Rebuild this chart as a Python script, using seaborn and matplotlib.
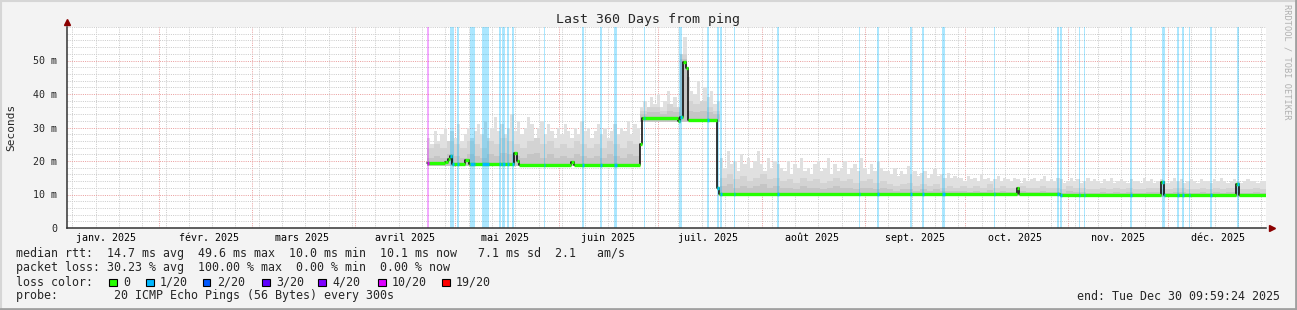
import numpy as np
import pandas as pd
import matplotlib
matplotlib.use("Agg")
import matplotlib.pyplot as plt
import matplotlib.dates as mdates
from matplotlib.ticker import MultipleLocator, FixedLocator, FuncFormatter
from matplotlib.patches import Rectangle
from matplotlib.lines import Line2D
import seaborn as sns

# ---------------- data ----------------
period_start = "2025-01-04 10:00"
period_end = "2025-12-30 10:00"

month_labels = ["janv. 2025", "févr. 2025", "mars 2025", "avril 2025", "mai 2025", "juin 2025",
                "juil. 2025", "août 2025", "sept. 2025", "oct. 2025", "nov. 2025", "déc. 2025"]
y_ticks = [0, 10, 20, 30, 40, 50]
y_tick_labels = ["0", "10 m", "20 m", "30 m", "40 m", "50 m"]

# median rtt (ms) as a step series
median_times = ["2025-04-22 12:00", "2025-04-28 00:00", "2025-04-28 18:00", "2025-04-29 08:00",
                "2025-04-29 22:00", "2025-05-04 00:00", "2025-05-05 00:00", "2025-05-06 12:00",
                "2025-05-18 18:00", "2025-05-19 12:00", "2025-05-20 06:00", "2025-06-04 20:00",
                "2025-06-05 12:00", "2025-06-25 12:00", "2025-06-26 04:00", "2025-07-06 18:00",
                "2025-07-07 12:00", "2025-07-08 06:00", "2025-07-09 03:00", "2025-07-09 18:00",
                "2025-07-18 12:00", "2025-07-19 03:00", "2025-10-16 14:00", "2025-10-17 06:00",
                "2025-10-29 12:00", "2025-11-29 00:00", "2025-11-29 17:00", "2025-12-21 12:00",
                "2025-12-22 04:00", "2025-12-30 10:00"]
median_ms = [19.3, 19.8, 20.6, 21.4, 19.2, 20.3, 19.0, 19.2, 22.3, 20.0,
             18.9, 19.8, 18.9, 25.2, 32.8, 31.9, 33.2, 49.6, 47.8, 32.3,
             11.8, 10.2, 11.9, 10.2, 9.8, 13.8, 10.0, 13.1, 9.8, 9.8]

# smoke (ping spread): daily maxima starting at smoke_start
smoke_start = "2025-04-22 12:00"
smoke_max = [27, 25, 29, 26, 28, 30, 26, 29, 27, 31, 26, 28, 30, 27, 29, 31,
             28, 32, 27, 30, 33, 29, 31, 28, 30, 34, 29, 32, 28, 30, 33, 31,
             27, 30, 32, 28, 31, 29, 27, 30, 28, 31, 29, 27, 30, 28, 32, 29,
             30, 27, 29, 31, 28, 30, 27, 29, 31, 28, 30, 29, 32, 28, 31, 30,
             36, 38, 35, 39, 37, 40, 36, 38, 41, 37, 39, 36,
             52, 57, 45, 41,
             40, 44, 38, 42, 39, 41, 37, 38,
             21, 18, 23, 19, 20, 17, 22, 19, 21, 18, 20, 23, 19, 17, 21, 18, 20, 19,
             18, 17, 20, 16, 19, 18, 21, 17, 18, 16, 19, 20, 17, 18, 21, 16,
             19, 17, 18, 20, 16, 18, 19, 17, 21, 18, 16, 19, 17, 20, 18, 17,
             17, 16, 18, 15.5, 17, 16, 18.5, 16, 17, 15.5, 16.5, 17, 15, 16, 17.5, 15.5,
             16, 15, 16.5, 15, 15.5, 15,
             15, 14, 15.5, 14.5, 15, 14, 16, 14.5, 15, 14, 14.5, 15.5, 14, 15, 14.5, 14, 15, 14.5, 13.5, 15,
             14, 14.5, 15, 14, 14.5, 15.5, 14, 14.5, 14, 15, 14.5, 13.5, 14, 15, 14, 14.5, 13.5, 14, 15, 14,
             14.5, 14, 13.5, 14.5, 14, 15, 13.5, 14, 14.5, 14, 13.5, 14.5, 14, 14, 13.5, 15, 14, 14.5, 13.5, 14,
             14.5, 14, 13.5, 14, 15, 14, 14.5, 13.5, 14, 14.5, 14, 13.5, 14.5, 14, 14, 13.5, 14.5, 14, 15, 14,
             13.5, 14, 14.5, 14, 13.5, 14, 14.5, 14, 14, 13.5, 14, 14]
# inner shades: 2-day bins
smoke_mid = [24, 25, 24, 26, 25, 24, 26, 25, 24, 26, 25, 27, 26, 25, 24, 26, 27, 25, 26, 24,
             25, 24, 26, 25, 24, 25, 24, 26, 25, 24, 26, 25,
             35, 36, 36, 35, 37, 36,
             52, 38,
             37, 38, 36, 35,
             15, 16, 14.5, 15.5, 14, 15, 16, 14.5, 15,
             14, 14.5, 13.5, 15, 14, 14.5, 13.5, 14, 15, 14, 14.5, 13.5, 14, 14.5, 13.5, 14,
             13, 12.5, 13, 13.5, 12.5, 13, 12.5, 13, 12, 12.5, 12,
             12.5, 12, 12.5, 12, 13, 12, 12.5, 12, 12, 12.5,
             12, 12, 12.5, 12, 12, 11.5, 12.5, 12, 12, 11.5,
             11.5, 12, 11.5, 12, 11.5, 12, 11.5, 11.5, 12, 12,
             11.5, 11.5, 12, 12, 11.5, 11.5, 12, 11.5, 12, 11.5,
             12, 12, 11.5, 11.5, 12, 11.5]
smoke_core = [21, 21.5, 21, 22, 21.5, 21, 22, 21.5, 21, 22, 21.5, 22.5, 22, 21.5, 21, 22, 22.5, 21, 22, 21,
              21.5, 21, 22, 21.5, 21, 21.5, 21, 22, 21.5, 21, 22, 21.5,
              34, 34.5, 34.5, 34, 35, 34.5,
              50.5, 35,
              34.5, 35, 34.5, 34,
              12.5, 13, 12, 12.5, 12, 12.5, 13, 12, 12.5,
              12, 12, 11.5, 12.5, 12, 12, 11.5, 12, 12.5, 12, 12, 11.5, 12, 12, 11.5, 12,
              11.5, 11, 11.5, 11.5, 11, 11.5, 11, 11.5, 11, 11, 11,
              11, 10.8, 11, 10.8, 11.2, 10.8, 11, 10.8, 10.8, 11,
              10.8, 10.8, 11, 10.8, 10.8, 10.5, 11, 10.8, 10.8, 10.5,
              10.5, 10.8, 10.5, 10.8, 10.5, 10.8, 10.5, 10.5, 10.8, 10.8,
              10.5, 10.5, 10.8, 10.8, 10.5, 10.5, 10.8, 10.5, 10.8, 10.5,
              10.8, 10.8, 10.5, 10.5, 10.8, 10.5]
smoke_low_levels = [18.4, 31.7, 9.7, 9.3]
smoke_low_days = [64, 24, 102, 62]

# packet loss events
loss_times = ["2025-04-22 20:00", "2025-04-30 00:00", "2025-05-01 17:00", "2025-05-06 03:00",
              "2025-05-10 01:00", "2025-05-14 10:00", "2025-05-15 10:00", "2025-05-16 22:00",
              "2025-05-18 08:00", "2025-05-27 17:00", "2025-06-08 10:00", "2025-06-13 17:00",
              "2025-06-18 03:00", "2025-06-26 20:00", "2025-07-07 15:00", "2025-07-15 20:00",
              "2025-07-18 20:00", "2025-07-19 17:00", "2025-07-23 20:00", "2025-08-05 20:00",
              "2025-08-30 08:00", "2025-09-04 22:00", "2025-09-14 20:00", "2025-09-18 10:00",
              "2025-09-24 13:00", "2025-10-09 20:00", "2025-10-28 22:00", "2025-10-29 20:00",
              "2025-11-04 08:00", "2025-11-05 22:00", "2025-11-19 20:00", "2025-11-29 15:00",
              "2025-12-03 22:00", "2025-12-05 10:00", "2025-12-07 10:00", "2025-12-13 20:00",
              "2025-12-21 22:00"]
loss_hours = [17, 31, 14, 36, 55, 14, 22, 14, 17, 8, 14, 14, 22, 8, 22, 14, 14, 14, 8, 14,
              8, 14, 14, 14, 22, 8, 14, 14, 8, 8, 14, 22, 14, 14, 8, 14, 14]
loss_level = ["10/20"] + ["1/20"] * 36

loss_legend = ["0", "1/20", "2/20", "3/20", "4/20", "10/20", "19/20"]
loss_colors = ["#26ff00", "#00b8ff", "#0059ff", "#5e00ff", "#7e00ff", "#dd00ff", "#ff0000"]

stats_lines = [
    "median rtt:  14.7 ms avg  49.6 ms max  10.0 ms min  10.1 ms now   7.1 ms sd  2.1   am/s",
    "packet loss: 30.23 % avg  100.00 % max  0.00 % min  0.00 % now",
]
probe_line = "probe:        20 ICMP Echo Pings (56 Bytes) every 300s"
end_text = "end: Tue Dec 30 09:59:24 2025"
title = "Last 360 Days from ping"

# ---------------- figure ----------------
sns.set_style("white")
plt.rcParams["font.family"] = ["DejaVu Sans Mono", "DejaVu Sans"]

W, H = 1297, 310
fig = plt.figure(figsize=(W / 100, H / 100), dpi=100, facecolor="#f3f3f3")


def fx(px):
    return px / W


def fy(py):
    return 1 - py / H


ax = fig.add_axes([fx(67), fy(228), fx(1266) - fx(67), fy(27) - fy(228)])
ax.set_facecolor("white")

t0 = mdates.date2num(pd.Timestamp(period_start))
t1 = mdates.date2num(pd.Timestamp(period_end))
ax.set_xlim(t0, t1)
ax.set_ylim(0, 60)

# grid
ax.yaxis.set_major_locator(FixedLocator(y_ticks))
ax.yaxis.set_minor_locator(MultipleLocator(2))
ax.xaxis.set_major_locator(mdates.MonthLocator())
ax.xaxis.set_minor_locator(mdates.WeekdayLocator(byweekday=mdates.MO))
ax.grid(which="minor", color="#cccccc", linestyle=(0, (1, 1.2)), linewidth=0.72, zorder=0)
ax.grid(which="major", color="#eaa0a0", linestyle=(0, (1, 1.2)), linewidth=0.72, zorder=0)
ax.set_axisbelow(True)

ax.set_yticklabels(y_tick_labels)
ax.tick_params(axis="y", which="both", length=0, pad=7, labelsize=7.2)
ax.tick_params(axis="x", which="both", length=0, labelbottom=False)
for s in ["top", "right"]:
    ax.spines[s].set_visible(False)
for s in ["left", "bottom"]:
    ax.spines[s].set_color("#333333")
    ax.spines[s].set_linewidth(1.1)

# smoke
n = len(smoke_max)
edges = mdates.date2num(pd.date_range(smoke_start, periods=n + 1, freq="1D"))
low = np.repeat(smoke_low_levels, smoke_low_days)
layers = [(np.asarray(smoke_max, float), "#e0e0e0"),
          (np.repeat(smoke_mid, 2), "#d3d3d3"),
          (np.repeat(smoke_core, 2), "#c5c5c5")]
for a, col in layers:
    ax.fill_between(edges, np.append(low, low[-1]), np.append(a, a[-1]), step="post",
                    color=col, linewidth=0, zorder=1)

# loss bars
lt = mdates.date2num(pd.to_datetime(loss_times))
lw_days = np.asarray(loss_hours) / 24.0
cmap = dict(zip(loss_legend, loss_colors))
for t, w, lev in zip(lt, lw_days, loss_level):
    ax.axvspan(t - w / 2, t + w / 2, color=cmap[lev], alpha=0.33, linewidth=0, zorder=2)

# median line
mt = mdates.date2num(pd.to_datetime(median_times))
mv = np.asarray(median_ms)
df = pd.DataFrame({"t": mt, "v": mv})
sns.lineplot(data=df, x="t", y="v", ax=ax, color="black", linewidth=1.1,
             drawstyle="steps-post", zorder=3, estimator=None)
ax.hlines(mv[:-1], mt[:-1], mt[1:], color=loss_colors[0], linewidth=2.4, zorder=4)
for t, w, lev in zip(lt, lw_days, loss_level):
    a, b = t - w / 2, t + w / 2
    for i in range(len(mt) - 1):
        s, e = max(a, mt[i]), min(b, mt[i + 1])
        if e > s:
            ax.hlines(mv[i], s, e, color=cmap[lev], linewidth=2.4, zorder=5)
ax.set_xlabel("")
ax.set_ylabel("")

# month labels (centered mid-month)
trans = matplotlib.transforms.blended_transform_factory(ax.transData, ax.transAxes)
for m, lab in enumerate(month_labels):
    d = mdates.date2num(pd.Timestamp(2025, m + 1, 1) + pd.Timedelta(days=15))
    ax.text(d, -0.052, lab, transform=trans, ha="center", va="center", fontsize=7.2, color="black")

# axis arrows
ax.plot([0], [1.025], marker="^", color="#8b0000", markersize=4, transform=ax.transAxes, clip_on=False)
ax.plot([1.005], [0], marker=">", color="#8b0000", markersize=4, transform=ax.transAxes, clip_on=False)

# texts
fig.text(fx(648.5), fy(19), title, ha="center", va="center", fontsize=9.5)
fig.text(fx(11), fy(127), "Seconds", rotation=90, ha="center", va="center", fontsize=8)
fig.text(fx(1287), fy(4), "RRDTOOL / TOBI OETIKER", rotation=270, ha="center", va="top",
         fontsize=6.2, color="#b0b0b0")

FS = 8.37
for i, line in enumerate(stats_lines):
    fig.text(fx(16), fy(254 + 14 * i), line, ha="left", va="center", fontsize=FS)
fig.text(fx(16), fy(282), "loss color:", ha="left", va="center", fontsize=FS)
sq_x = [109, 146, 203, 262, 318, 378, 442]
for x, lab, col in zip(sq_x, loss_legend, loss_colors):
    fig.add_artist(Rectangle((fx(x), fy(286)), 7.5 / W, 7.5 / H, transform=fig.transFigure,
                             facecolor=col, edgecolor="black", linewidth=0.8))
    fig.text(fx(x + 14), fy(282), lab, ha="left", va="center", fontsize=FS)
fig.text(fx(16), fy(296), probe_line, ha="left", va="center", fontsize=FS)
fig.text(fx(1280), fy(296), end_text, ha="right", va="center", fontsize=FS)

# image border
fig.add_artist(Line2D([0, 1], [fy(0.5), fy(0.5)], color="#d6d6d6", linewidth=1.5))
fig.add_artist(Line2D([fx(0.5), fx(0.5)], [0, 1], color="#d6d6d6", linewidth=1.5))
fig.add_artist(Line2D([0, 1], [fy(309), fy(309)], color="#a0a0a0", linewidth=2))
fig.add_artist(Line2D([fx(1296), fx(1296)], [0, 1], color="#a0a0a0", linewidth=2))

fig.savefig("out.png", dpi=100, facecolor=fig.get_facecolor())
